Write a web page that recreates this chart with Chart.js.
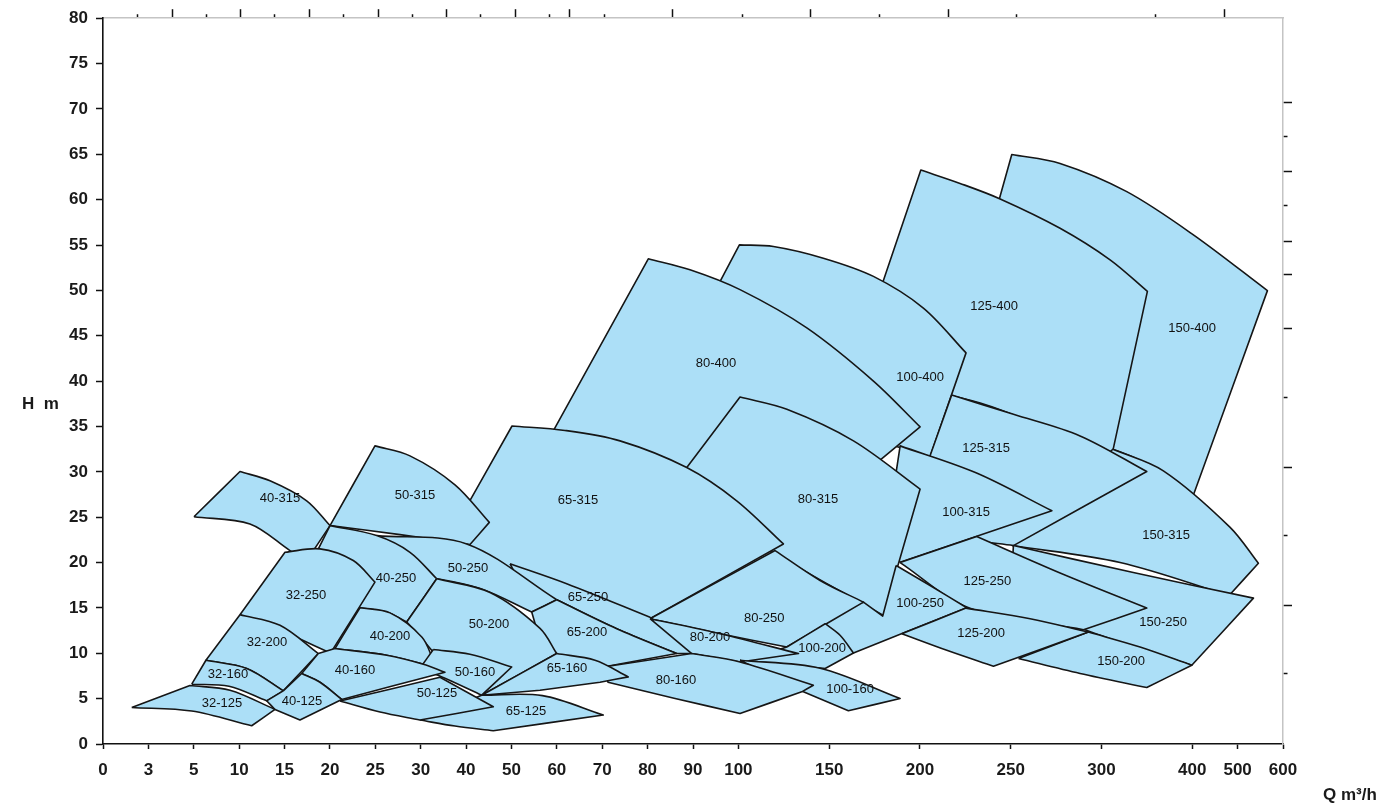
<!DOCTYPE html>
<html><head><meta charset="utf-8">
<script src="https://cdn.jsdelivr.net/npm/chart.js@4.4.1/dist/chart.umd.min.js"></script>
<style>html,body{margin:0;padding:0;background:#fff}#wrap{width:1391px;height:808px;position:relative}</style>
</head><body><div id="wrap"><canvas id="c"></canvas></div>
<script>
// ---- tick labels (flow axis is drawn with uneven spacing, like the original) ----
const qTicks = [0,3,5,10,15,20,25,30,40,50,60,70,80,90,100,150,200,250,300,400,500,600];
const qTickGap = [1,1,1,1,1,1,1,1,1,1,1,1,1,1,2,2,2,2,2,1,1];
const hMin = 0, hMax = 80, hStep = 5;
// unlabeled secondary ticks (top: flow, right: head)
const topTicksQ = [2.31,4.07,6.43,10.19,13.94,17.73,21.45,25.32,29.08,35.65,43.16,50.83,58.43,62.82,70.4,85.58,102,139.7,177.9,215.5,253.3,359.5,470];
const topTicksMajor = [0,1,0,1,0,1,0,1,0,1,0,1,0,1,0,1,0,1,0,1,0,0,1];
const rightTicksH = [70.66,66.92,63.08,59.34,55.38,51.76,45.82,38.24,30.44,22.97,15.27,7.8];
const rightTicksMajor = [1,0,1,0,1,1,1,0,1,0,1,0];

// ---- pump models (drawn back to front) ----
const models = ['150-400','125-400','100-400','80-400','150-315','125-315','100-315','80-315','65-315','50-315','40-315',
 '150-250','125-250','100-250','80-250','65-250','50-250','40-250','32-250',
 '150-200','125-200','100-200','80-200','65-200','50-200','40-200','32-200',
 '100-160','80-160','65-160','50-160','40-160','32-160','65-125','50-125','40-125','32-125'];

// boundary of each working range: flow Q (m3/h), head H (m); kind: c = corner, s = point on a curve
const boundaryQ = [
 [209.5,250.6,277.2,327.9,402.6,565.7,402,331.5,260.7],
 [161.5,200.5,222.1,244.2,277.2,309.5,350.6,310.6,233.2],
 [82.07,100.55,119.3,146.8,174.4,201.9,225.4,205.6,130.1],
 [57.39,80.15,89.34,100.9,137.7,174.4,200.1,167.6,92.21],
 [250.8,312.5,368.2,483.5,545.8,481.3,320.5],
 [192.9,217.5,251.5,288.2,349.9,251.5,224.9],
 [180.8,189.1,230.9,272.7,189.1,184.7],
 [81.41,100.9,126.7,163.4,200.1,179.9,150.5,100.9],
 [34.25,50.12,61.8,73.92,88.62,99.63,124.8,80.53,57.39],
 [20.01,24.96,28.82,37.56,45.12,40.86,27.72],
 [5.02,10.09,13.4,17.44,20.01,17.44,15.6,11.19],
 [249.7,251.5,335.1,534.9,399.5,299.3],
 [189.1,231.3,278.2,349.9,290.1,227.6],
 [186.9,205.6,225.8,163.4,142.3,142.3,168.9,179.5],
 [80.53,120.2,145.0,168.9,126.7,95.95],
 [49.68,62.17,80.53,90.07,86.41,73.19,59.97,54.09],
 [25.15,40.14,59.97,54.46,43.07,29.92],
 [20.01,25.15,28.82,33.53,28.46,26.25,23.31,17.25],
 [10.09,15.05,18.9,22.57,24.96,20.08,14.5],
 [254.3,292.8,342.5,399.5,349.9,288.2],
 [190.0,225.4,260.7,292.8,240.5,214.8],
 [126.7,147.8,156.0,163.4,147.8,128.5,103.7],
 [80.53,95.95,133.1,100.9,89.72],
 [59.97,73.19,86.41,70.24,59.97,56.29,54.46],
 [33.53,45.27,56.29,59.97,43.44,34.25,29.37,28.46],
 [23.31,26.62,30.29,32.78,30.57,26.25,20.56],
 [6.34,10.09,14.5,18.72,14.86,10.83],
 [100.9,145.0,189.1,160.6,135.8],
 [70.24,89.72,100.9,141.3,134.9,100.9,85.82,71.27],
 [43.44,59.97,68.41,75.75,69.51,56.29],
 [32.78,40.86,50.05,43.44,35.35,29.92],
 [20.56,26.25,30.57,35.35,21.3,18.9,16.89,18.72],
 [4.91,6.34,10.83,14.86,13.03,8.88],
 [29.92,43.44,56.84,70.24,46.0,37.56],
 [21.11,34.25,46.0,29.92,25.52],
 [14.86,16.89,18.9,21.3,16.7,13.95,13.03],
 [1.9,4.83,8.99,13.95,11.38,4.91]
];
const boundaryH = [
 [35.6,64.98,63.99,60.88,56.12,49.97,27.36,31.76,34.73],
 [40.22,63.26,61.79,60.08,56.85,53.37,49.89,31.43,37.58],
 [37.8,55.02,54.84,53.55,51.54,48.05,43.11,31.65,36.04],
 [32.86,53.48,52.27,50.08,45.86,40.0,34.95,29.56,28.46],
 [21.87,32.49,30.11,23.88,19.92,16.37,20.0],
 [24.62,38.46,36.34,33.96,30.03,21.87,22.64],
 [21.87,32.86,29.89,25.71,20.03,20.88],
 [25.71,38.24,36.89,33.41,28.1,14.18,17.47,22.86],
 [20.99,35.05,34.56,33.41,30.47,26.81,22.05,13.81,18.02],
 [24.07,32.86,31.76,28.57,24.43,21.98,23.08],
 [25.05,30.03,29.01,26.81,24.07,20.22,21.32,24.25],
 [15.82,21.87,18.9,16.08,8.68,11.98],
 [20.0,22.86,18.76,14.98,12.6,14.95],
 [19.67,17.47,15.02,10.03,11.98,15.27,15.64,14.1],
 [13.81,21.32,18.02,15.64,10.69,12.16],
 [19.86,17.66,13.96,9.97,9.97,12.71,15.9,15.82],
 [22.97,22.05,15.9,14.54,17.14,18.57],
 [24.07,22.97,21.13,18.21,13.44,14.54,15.02,18.57],
 [14.25,21.13,21.51,20.22,17.84,10.03,12.53],
 [9.42,12.34,10.69,8.68,6.23,7.77],
 [12.16,14.98,13.81,12.34,8.57,10.33],
 [10.69,13.26,11.98,10.03,8.32,8.68,9.23],
 [13.81,12.16,9.97,9.04,9.97],
 [15.9,12.71,9.97,8.49,9.78,11.43,14.54],
 [18.21,16.7,12.75,9.97,5.38,9.23,12.53,13.44],
 [15.02,14.45,11.76,9.23,8.79,9.78,10.52],
 [9.23,14.25,13.08,9.97,5.86,8.32],
 [9.23,8.35,5.02,3.66,5.75],
 [8.49,9.97,9.04,6.48,5.75,3.37,5.05,6.81],
 [5.38,9.97,9.23,7.4,6.81,5.93],
 [10.41,9.89,8.49,5.38,7.25,8.35],
 [10.52,9.78,8.79,7.91,4.91,6.81,7.77,9.97],
 [6.59,9.23,8.32,5.86,4.76,6.37],
 [2.64,5.38,5.33,3.19,1.46,1.98],
 [4.73,7.36,4.1,2.64,3.52],
 [5.86,7.77,6.81,4.91,2.64,3.81,4.76],
 [4.03,6.45,5.93,3.81,2.01,3.63]
];
const boundaryKind = ['ccsssccss','ccssssccs','ccssssccs','ccssssccs','ccssccs','ccssccs','ccsccs','ccssccss','ccssssccs','ccssccs','ccssccss',
 'ccsccs','ccsccs','cscccccc','ccsccs','cscccscc','csccsc','cssccscc','ccssccs',
 'ccsccs','ccsccs','ccsccsc','csccc','csccccc','cssccccc','cssccsc','ccsccs',
 'csccc','ccscccsc','ccsccc','csccsc','cssccscc','ccsccs','ccsccs','ccccs','ccscccc','ccsccs'];
// label anchor for each model
const labelQ = [399.8,240.9,200.1,95.07,371.2,236.5,225.4,143.9,64.66,29.37,14.5,
 367.9,237.1,200.1,114.2,66.87,40.42,27.28,17.36,
 321.6,233.7,146.1,93.75,66.65,45.05,26.62,13.07,
 161.5,86.26,62.24,41.97,22.76,8.77,53.2,33.59,16.92,8.11];
const labelH = [45.82,48.24,40.44,41.98,22.97,32.53,25.49,26.92,26.81,27.36,27.03,
 13.41,17.91,15.49,13.85,16.15,19.34,18.24,16.37,
 9.12,12.2,10.55,11.76,12.31,13.19,11.87,11.21,
 6.04,7.03,8.35,7.91,8.13,7.69,3.63,5.6,4.73,4.51];

// ---- axis helpers ----
const qSlot = [0];
qTickGap.forEach(g => qSlot.push(qSlot[qSlot.length - 1] + g));
const slotMax = qSlot[qSlot.length - 1];
function qToSlot(q) {
  for (let i = 0; i < qTicks.length - 1; i++) {
    if (q <= qTicks[i + 1]) {
      return qSlot[i] + (q - qTicks[i]) / (qTicks[i + 1] - qTicks[i]) * (qSlot[i + 1] - qSlot[i]);
    }
  }
  return slotMax;
}

const FILL = '#acdff7', EDGE = '#161616';
const FONT = '"Liberation Sans", Arial, Helvetica, sans-serif';

const datasets = models.map((name, i) => {
  const pts = [];
  const kinds = boundaryKind[i];
  boundaryQ[i].forEach((q, j) => {
    const p = {x: qToSlot(q), y: boundaryH[i][j]};
    pts.push(p);
    if (kinds[j] === 'c') pts.push({x: p.x, y: p.y});
  });
  const f = {x: qToSlot(boundaryQ[i][0]), y: boundaryH[i][0]};
  pts.push({x: f.x, y: f.y}, {x: f.x, y: f.y});
  return {
    label: name, data: pts, showLine: true, fill: 'shape',
    backgroundColor: FILL, borderColor: EDGE, borderWidth: 1.6,
    borderJoinStyle: 'round', pointRadius: 0, pointHoverRadius: 0,
    tension: 0.33, order: models.length - i
  };
});

const textPlugin = {
  id: 'texts',
  afterDatasetsDraw(chart) {
    const {ctx, scales: {x, y}, chartArea} = chart;
    ctx.save();
    ctx.fillStyle = '#111';
    ctx.font = '13px ' + FONT;
    ctx.textAlign = 'center';
    ctx.textBaseline = 'middle';
    models.forEach((m, i) => {
      ctx.fillText(m, x.getPixelForValue(qToSlot(labelQ[i])), y.getPixelForValue(labelH[i]));
    });
    ctx.font = 'bold 17px ' + FONT;
    ctx.textAlign = 'left';
    ctx.fillStyle = '#1a1a1a';
    ctx.fillText('H  m', chartArea.left - 81, y.getPixelForValue(37.4));
    ctx.fillText('Q m\u00B3/h', chartArea.right + 40, chartArea.bottom + 51);
    ctx.restore();
  }
};

new Chart(document.getElementById('c'), {
  type: 'scatter',
  data: {datasets},
  options: {
    responsive: true, maintainAspectRatio: false, animation: false, events: [],
    layout: {padding: 0},
    plugins: {legend: {display: false}, tooltip: {enabled: false}},
    scales: {
      x: {
        type: 'linear', position: 'bottom', min: 0, max: slotMax,
        afterBuildTicks: a => { a.ticks = qSlot.map(v => ({value: v})); },
        afterFit: a => { a.height = 64; },
        ticks: {autoSkip: false, maxRotation: 0, padding: 11, color: '#1a1a1a', font: {family: FONT, size: 17, weight: 'bold'},
          callback: (v, i) => qTicks[i]},
        grid: {drawOnChartArea: false, drawTicks: true, tickLength: 5, tickColor: '#111', tickWidth: 1.5},
        border: {color: '#111', width: 1.6}
      },
      x2: {
        type: 'linear', position: 'top', min: 0, max: slotMax,
        afterBuildTicks: a => { a.ticks = topTicksQ.map(q => ({value: qToSlot(q)})); },
        afterFit: a => { a.height = 16; },
        ticks: {display: false},
        grid: {drawOnChartArea: false, drawTicks: true, tickLength: 9, tickColor: '#111', tickWidth: 1.5,
          tickBorderDash: c => topTicksMajor[c.index] ? [] : [0, 5, 4, 40]},
        border: {color: '#c4c4c4', width: 1.5}
      },
      y: {
        type: 'linear', position: 'left', min: hMin, max: hMax,
        afterFit: a => { a.width = 103; },
        ticks: {stepSize: hStep, padding: 8, color: '#1a1a1a', font: {family: FONT, size: 17, weight: 'bold'}},
        grid: {drawOnChartArea: false, drawTicks: true, tickLength: 7, tickColor: '#111', tickWidth: 1.5},
        border: {color: '#111', width: 1.6}
      },
      y2: {
        type: 'linear', position: 'right', min: hMin, max: hMax,
        afterBuildTicks: a => { a.ticks = rightTicksH.map(v => ({value: v})); },
        afterFit: a => { a.width = 108; },
        ticks: {display: false},
        grid: {drawOnChartArea: false, drawTicks: true, tickLength: 9, tickColor: '#111', tickWidth: 1.5,
          tickBorderDash: c => rightTicksMajor[c.index] ? [] : [4, 40]},
        border: {color: '#c4c4c4', width: 1.5}
      }
    }
  },
  plugins: [textPlugin]
});
</script>
</body></html>
